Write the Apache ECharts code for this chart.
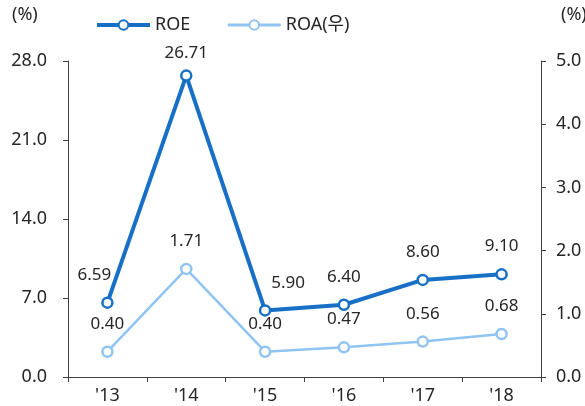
<!DOCTYPE html>
<html>
<head>
<meta charset="utf-8">
<script src="https://cdn.jsdelivr.net/npm/echarts@6/dist/echarts.min.js"></script>
<style>
  html, body { margin: 0; padding: 0; background: #fff; }
  #chart { width: 585px; height: 406px; }
</style>
</head>
<body>
<div id="chart"></div>
<script>
// Years on the category axis
const years = ["'13", "'14", "'15", "'16", "'17", "'18"];
// Return on equity (%), left axis
const roe = [6.59, 26.71, 5.90, 6.40, 8.60, 9.10];
// Return on assets (%), right axis
const roa = [0.40, 1.71, 0.40, 0.47, 0.56, 0.68];
// Axis ranges
const leftTicks = { min: 0, max: 28, interval: 7 };
const rightTicks = { min: 0, max: 5, interval: 1 };

const FONT = '"Noto Sans", "Noto Sans CJK KR", sans-serif';
const TEXT = '#262626';
const AXIS = '#404040';
const ROE_COLOR = '#176FC6';
const ROA_COLOR = '#8FC4F3';

// Nudge a few ROE value labels so they clear the line
const roeLabelShift = { 0: [-13, 0], 1: [0, 5], 2: [23, 0] };

const chart = echarts.init(document.getElementById('chart'), null, { renderer: 'canvas' });

const axisCommon = {
  axisLine: { show: true, lineStyle: { color: AXIS, width: 1 } },
  axisTick: { show: true, length: 5, lineStyle: { color: AXIS } },
  splitLine: { show: false },
};

const valueLabel = {
  show: true, position: 'top', distance: 13,
  fontSize: 17, color: TEXT, fontFamily: FONT,
  formatter: p => p.value.toFixed(2),
};

chart.setOption({
  animation: false,
  textStyle: { fontFamily: FONT },
  grid: { left: 68, right: 44, top: 61, bottom: 29, containLabel: false },
  legend: {
    top: 16,
    left: 95,
    padding: 0,
    itemWidth: 53,
    itemHeight: 12,
    itemGap: 36,
    textStyle: { fontSize: 18, color: TEXT, fontFamily: FONT },
    data: [
      { name: 'ROE', lineStyle: { width: 4 } },
      { name: 'ROA(우)', lineStyle: { width: 3 } },
    ],
  },
  graphic: [
    { type: 'text', left: 12, top: 6, style: { text: '(%)', fontSize: 18, fill: TEXT, fontFamily: FONT } },
    { type: 'text', left: 561, top: 6, style: { text: '(%)', fontSize: 18, fill: TEXT, fontFamily: FONT } },
  ],
  xAxis: {
    type: 'category',
    data: years,
    boundaryGap: true,
    ...axisCommon,
    axisTick: { show: true, length: 5, alignWithLabel: false, lineStyle: { color: AXIS } },
    axisLabel: { fontSize: 18, color: TEXT, margin: 10, fontFamily: FONT },
  },
  yAxis: [
    {
      type: 'value',
      position: 'left',
      ...leftTicks,
      ...axisCommon,
      axisLabel: { fontSize: 18, color: TEXT, margin: 21, fontFamily: FONT,
        formatter: v => v.toFixed(1) },
    },
    {
      type: 'value',
      position: 'right',
      ...rightTicks,
      ...axisCommon,
      axisLabel: { fontSize: 18, color: TEXT, margin: 15, fontFamily: FONT,
        formatter: v => v.toFixed(1) },
    },
  ],
  series: [
    {
      name: 'ROE',
      type: 'line',
      yAxisIndex: 0,
      data: roe.map((v, i) => roeLabelShift[i]
        ? { value: v, label: { offset: roeLabelShift[i] } }
        : v),
      symbol: 'circle',
      symbolSize: 10,
      color: ROE_COLOR,
      lineStyle: { width: 4, color: ROE_COLOR },
      itemStyle: { color: '#fff', borderColor: ROE_COLOR, borderWidth: 2.5 },
      label: valueLabel,
      z: 3,
    },
    {
      name: 'ROA(우)',
      type: 'line',
      yAxisIndex: 1,
      data: roa,
      symbol: 'circle',
      symbolSize: 10,
      color: ROA_COLOR,
      lineStyle: { width: 2.5, color: ROA_COLOR },
      itemStyle: { color: '#fff', borderColor: ROA_COLOR, borderWidth: 2.5 },
      label: valueLabel,
      z: 2,
    },
  ],
});
</script>
</body>
</html>
